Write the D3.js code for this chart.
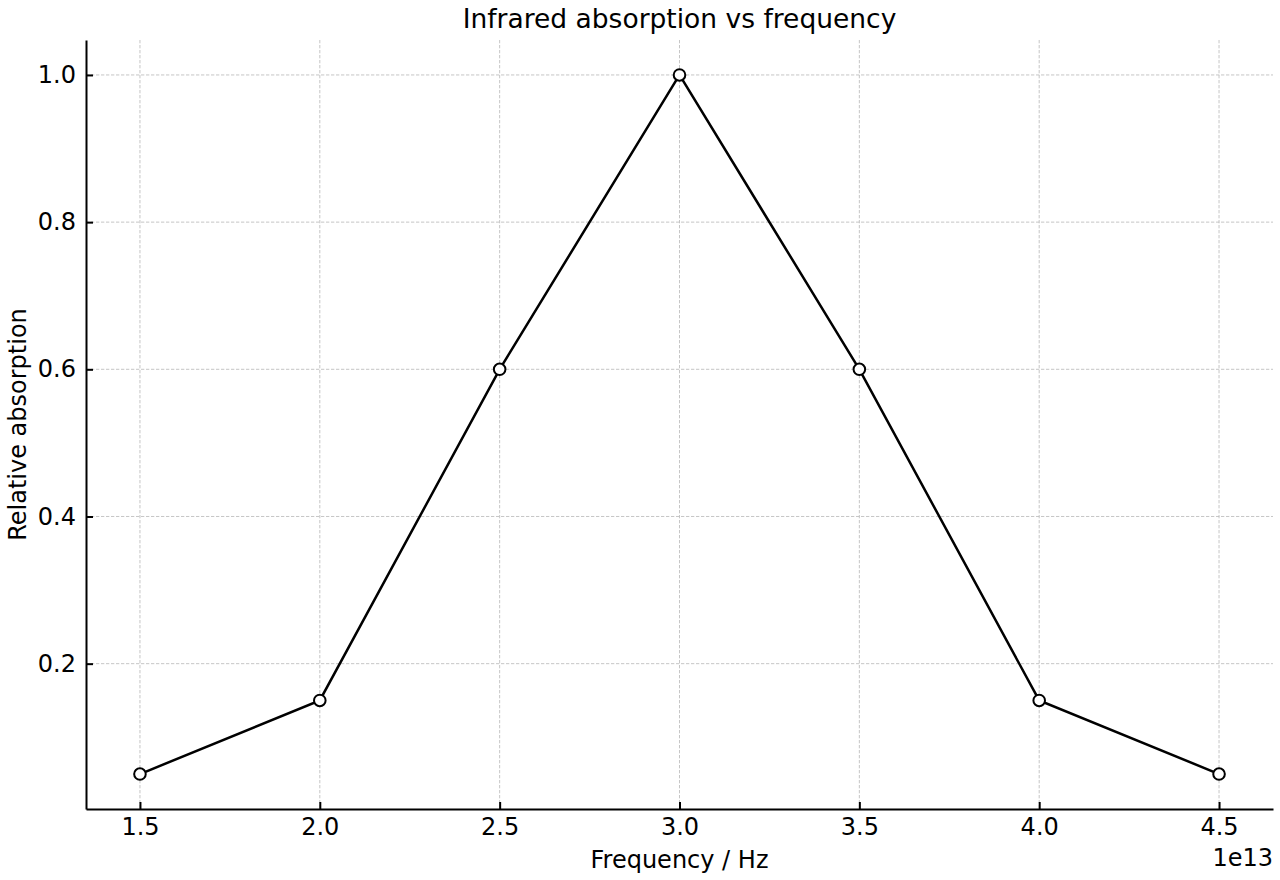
<!DOCTYPE html>
<html><head><meta charset="utf-8">
<script src="https://cdn.jsdelivr.net/npm/d3@7"></script>
<style>body{margin:0;background:#fff}svg{display:block}text{font-family:"DejaVu Sans",sans-serif}</style>
</head><body><svg id="c" width="1280" height="880"></svg>
<script>
const freq = [1.5e13, 2.0e13, 2.5e13, 3.0e13, 3.5e13, 4.0e13, 4.5e13];
const absorption = [0.05, 0.15, 0.6, 1.0, 0.6, 0.15, 0.05];
const xTicks = [1.5e13, 2.0e13, 2.5e13, 3.0e13, 3.5e13, 4.0e13, 4.5e13];
const yTicks = [0.2, 0.4, 0.6, 0.8, 1.0];

const svg = d3.select("#c");
const L = 86, R = 1273, T = 40, B = 809;
const x = d3.scaleLinear().domain([1.35e13, 4.65e13]).range([L, R]);
const y = d3.scaleLinear().domain([0.0025, 1.0475]).range([B, T]);

// grid
svg.append("g").selectAll("line").data(xTicks).join("line")
  .attr("x1", d => x(d)).attr("x2", d => x(d)).attr("y1", T).attr("y2", B)
  .attr("stroke", "#b8b8b8").attr("stroke-width", 0.8).attr("stroke-dasharray", "3.3,1.7");
svg.append("g").selectAll("line").data(yTicks).join("line")
  .attr("x1", L).attr("x2", R).attr("y1", d => y(d)).attr("y2", d => y(d))
  .attr("stroke", "#b8b8b8").attr("stroke-width", 0.8).attr("stroke-dasharray", "3.3,1.7");

// axes
const xAxis = d3.axisBottom(x).tickValues(xTicks).tickSizeInner(-7).tickSizeOuter(0).tickPadding(9)
  .tickFormat(d => (d / 1e13).toFixed(1));
const gx = svg.append("g").attr("transform", `translate(0,${B})`).call(xAxis);
const yAxis = d3.axisLeft(y).tickValues(yTicks).tickSizeInner(-7).tickSizeOuter(0).tickPadding(10)
  .tickFormat(d => d.toFixed(1));
const gy = svg.append("g").attr("transform", `translate(${L},0)`).call(yAxis);
[gx, gy].forEach(g => {
  g.select(".domain").attr("stroke", "#000").attr("stroke-width", 2);
  g.selectAll(".tick line").attr("stroke", "#000").attr("stroke-width", 2);
  g.selectAll(".tick text").attr("font-size", 24).attr("fill", "#000").attr("font-family", "DejaVu Sans");
});

// line
const line = d3.line().x((d, i) => x(freq[i])).y(d => y(d));
svg.append("path").datum(absorption).attr("d", line)
  .attr("fill", "none").attr("stroke", "#000").attr("stroke-width", 2.5);
svg.append("g").selectAll("circle").data(absorption).join("circle")
  .attr("cx", (d, i) => x(freq[i])).attr("cy", d => y(d)).attr("r", 5.8)
  .attr("fill", "#fff").attr("stroke", "#000").attr("stroke-width", 2);

// labels
svg.append("text").attr("x", (L + R) / 2).attr("y", 28).attr("text-anchor", "middle")
  .attr("font-size", 26.5).text("Infrared absorption vs frequency");
svg.append("text").attr("x", (L + R) / 2).attr("y", 868).attr("text-anchor", "middle")
  .attr("font-size", 24).text("Frequency / Hz");
svg.append("text").attr("transform", `translate(26,${(T + B) / 2}) rotate(-90)`).attr("text-anchor", "middle")
  .attr("font-size", 24).text("Relative absorption");
svg.append("text").attr("x", R).attr("y", 866).attr("text-anchor", "end")
  .attr("font-size", 24).text("1e13");
</script></body></html>
